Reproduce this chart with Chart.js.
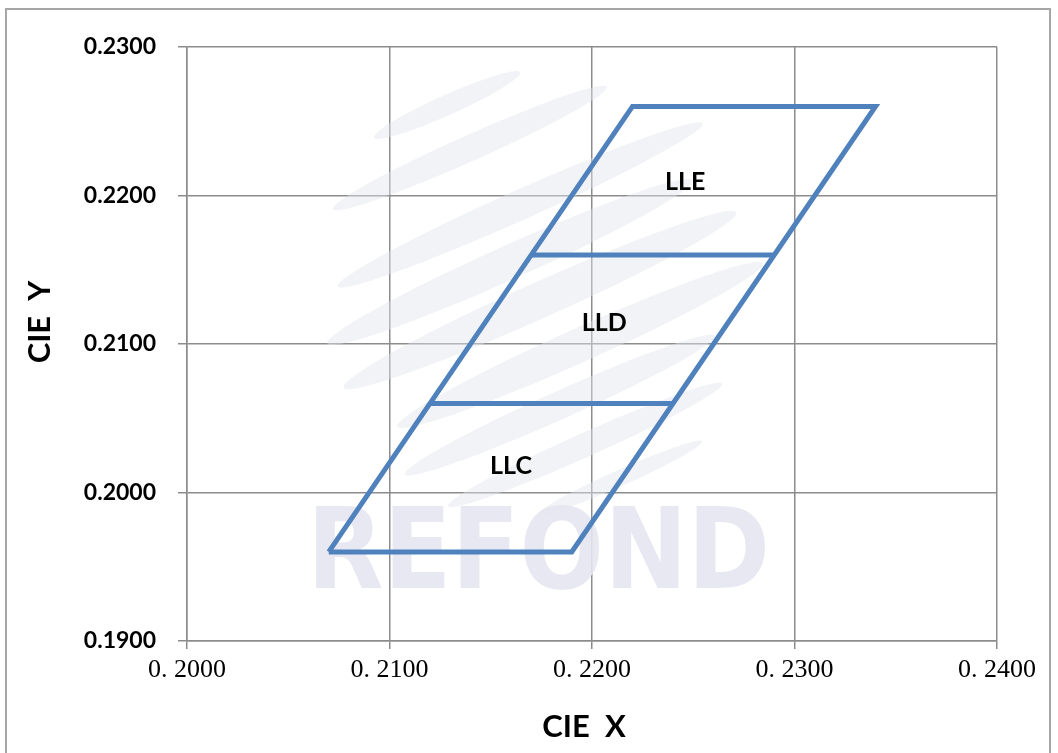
<!DOCTYPE html>
<html>
<head>
<meta charset="utf-8">
<script src="https://cdn.jsdelivr.net/npm/chart.js@4.4.0/dist/chart.umd.min.js"></script>
<style>
    body { margin: 0; background: #fff; }
    #frame { position: absolute; left: 5px; top: 8px; width: 1046px; height: 760px; border: 2px solid #a6a6a6; box-sizing: border-box; }
    #wrap { position: absolute; left: 0; top: 0; width: 1058px; height: 753px; }
</style>
</head>
<body>
<div id="frame"></div>
<div id="wrap"><canvas id="cieChart"></canvas></div>
<script>
// Data
const outlineX = [0.2070, 0.2190, 0.2340, 0.2220, 0.2070];
const outlineY = [0.1960, 0.1960, 0.2260, 0.2260, 0.1960];
const lowerSplitX = [0.2120, 0.2240];
const lowerSplitY = [0.2060, 0.2060];
const upperSplitX = [0.2170, 0.2290];
const upperSplitY = [0.2160, 0.2160];
const binNames = ['LLC', 'LLD', 'LLE'];
const binLabelX = [0.2160, 0.2206, 0.2246];
const binLabelY = [0.2018, 0.2114, 0.2209];
const xTicks = [0.2000, 0.2100, 0.2200, 0.2300, 0.2400];
const yTicks = [0.1900, 0.2000, 0.2100, 0.2200, 0.2300];

const lineColor = '#4f81bd';
const gridColor = '#8c8c8c';

const toPoints = (xs, ys) => xs.map((x, i) => ({ x: x, y: ys[i] }));

const lineSet = (xs, ys) => ({
    data: toPoints(xs, ys),
    showLine: true,
    borderColor: lineColor,
    borderWidth: 5,
    pointRadius: 0,
    fill: false,
    tension: 0
});

// faint watermark behind the plot
const watermark = {
    id: 'watermark',
    beforeDatasetsDraw(chart) {
        const ctx = chart.ctx;
        ctx.save();
        ctx.fillStyle = 'rgba(226,229,236,0.45)';
        const swooshes = [
            [447, 105, 80, 10], [470, 148, 150, 13], [520, 205, 200, 15],
            [510, 262, 200, 17], [540, 300, 215, 18], [580, 345, 200, 17],
            [560, 405, 170, 14], [585, 445, 150, 12], [620, 478, 90, 8]
        ];
        swooshes.forEach(s => {
            ctx.beginPath();
            ctx.ellipse(s[0], s[1], s[2], s[3], -0.42, 0, Math.PI * 2);
            ctx.fill();
        });
        ctx.fillStyle = 'rgba(230,230,241,0.9)';
        ctx.font = 'bold 112px "DejaVu Sans"';
        ctx.textBaseline = 'top';
        ctx.textAlign = 'left';
        const word = 'REFOND';
        const w = ctx.measureText(word).width;
        ctx.save();
        ctx.translate(307, 503);
        ctx.scale(463 / w, 1);
        ctx.fillText(word, 0, 0);
        ctx.restore();
        ctx.restore();
    }
};

const textLayer = {
    id: 'textLayer',
    afterDatasetsDraw(chart) {
        const ctx = chart.ctx;
        const xs = chart.scales.x, ys = chart.scales.y;
        ctx.save();
        ctx.fillStyle = '#000';
        ctx.font = 'bold 25px Lato';
        ctx.textAlign = 'center';
        ctx.textBaseline = 'middle';
        binNames.forEach((n, i) => {
            ctx.fillText(n, xs.getPixelForValue(binLabelX[i]), ys.getPixelForValue(binLabelY[i]));
        });
        // axis titles
        ctx.font = 'bold 31px Lato';
        ctx.fillText('CIE  X', 584, 727);
        ctx.translate(40, 322);
        ctx.rotate(-Math.PI / 2);
        ctx.fillText('CIE  Y', 0, 0);
        ctx.restore();
    }
};

window.onload = () => {
    const cieChart = document.getElementById('cieChart');

    new Chart(cieChart, {
        type: 'scatter',
        data: {
            datasets: [
                lineSet(outlineX, outlineY),
                lineSet(lowerSplitX, lowerSplitY),
                lineSet(upperSplitX, upperSplitY)
            ]
        },
        options: {
            responsive: true,
            maintainAspectRatio: false,
            animation: false,
            layout: { padding: { top: 47, right: 61, bottom: 0, left: 0 } },
            plugins: {
                legend: { display: false },
                tooltip: { enabled: false }
            },
            scales: {
                x: {
                    type: 'linear',
                    min: 0.2000,
                    max: 0.2400,
                    afterBuildTicks: axis => { axis.ticks = xTicks.map(v => ({ value: v })); },
                    afterFit: axis => { axis.height = 112; },
                    grid: { color: gridColor, lineWidth: 1.5, tickLength: 8, drawTicks: true },
                    border: { color: gridColor, width: 1.5 },
                    ticks: {
                        color: '#000',
                        font: { family: '"Liberation Serif"', size: 26 },
                        padding: 6,
                        maxRotation: 0,
                        callback: v => v.toFixed(4).replace('.', '. ')
                    }
                },
                y: {
                    type: 'linear',
                    min: 0.1900,
                    max: 0.2300,
                    afterBuildTicks: axis => { axis.ticks = yTicks.map(v => ({ value: v })); },
                    afterFit: axis => { axis.width = 187; },
                    grid: { color: gridColor, lineWidth: 1.5, tickLength: 9, drawTicks: true },
                    border: { color: gridColor, width: 1.5 },
                    ticks: {
                        color: '#000',
                        font: { family: 'Lato', size: 23, weight: 'bold' },
                        padding: 22,
                        callback: v => v.toFixed(4)
                    }
                }
            }
        },
        plugins: [watermark, textLayer]
    });
};
</script>
</body>
</html>
